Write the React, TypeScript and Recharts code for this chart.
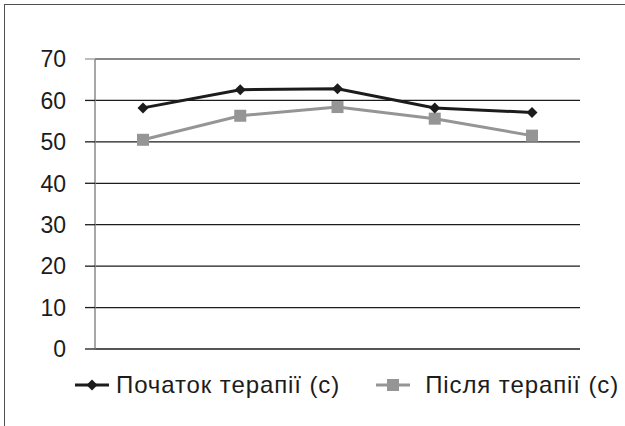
import { CartesianGrid, Line, LineChart, ReferenceLine, XAxis, YAxis } from 'recharts'

const stages = ['1', '2', '3', '4', '5']
const beforeValues = [58.2, 62.6, 62.8, 58.2, 57.1]
const afterValues = [50.5, 56.3, 58.4, 55.6, 51.5]
const yTicks = [0, 10, 20, 30, 40, 50, 60, 70]

const BEFORE_LABEL = 'Початок терапії (с)'
const AFTER_LABEL = 'Після терапії (с)'

const FONT = '"Liberation Sans", Arial, sans-serif'
const DARK = '#1c1c1c'
const GREY = '#959595'

const data = stages.map((s, i) => ({ stage: s, before: beforeValues[i], after: afterValues[i] }))

function Diamond({ cx, cy }: any) {
  if (cx == null || cy == null) return null
  return <path d={`M${cx},${cy - 5.5} L${cx + 5.5},${cy} L${cx},${cy + 5.5} L${cx - 5.5},${cy} Z`} fill={DARK} />
}

function Square({ cx, cy }: any) {
  if (cx == null || cy == null) return null
  return <rect x={cx - 6} y={cy - 6} width={12} height={12} fill={GREY} />
}

function YTick({ x, y, payload }: any) {
  const stroke = payload.value === 70 ? '#9a9a9a' : DARK
  return (
    <g>
      <line x1={x + 19} x2={x + 29} y1={y} y2={y} stroke={stroke} strokeWidth={1.3} />
      <text x={x} y={y} dy="0.36em" textAnchor="end" fontSize={23} fill={DARK} fontFamily={FONT}>
        {payload.value}
      </text>
    </g>
  )
}

export default function App() {
  return (
    <div style={{ position: 'absolute', left: 0, top: 0, width: 625, height: 426, overflow: 'hidden', background: '#fff' }}>
      <div
        style={{
          position: 'absolute',
          left: 4,
          top: 4,
          width: 700,
          height: 500,
          border: '1.5px solid #505050',
        }}
      />
      <div style={{ position: 'absolute', left: 0, top: 0 }}>
        <LineChart width={625} height={426} data={data} margin={{ top: 59, right: 45, bottom: 77, left: 0 }}>
          <CartesianGrid vertical={false} stroke={DARK} strokeWidth={1.3} />
          <ReferenceLine y={70} stroke="#9a9a9a" strokeWidth={1.5} />
          <XAxis
            dataKey="stage"
            tick={false}
            tickLine={false}
            height={0}
            padding={{ left: 48, right: 48 }}
            axisLine={{ stroke: DARK, strokeWidth: 1.3 }}
          />
          <YAxis
            width={95}
            domain={[0, 70]}
            ticks={yTicks}
            interval={0}
            tickSize={10}
            tickMargin={19}
            tickLine={false}
            axisLine={{ stroke: '#8a8a8a', strokeWidth: 1.5 }}
            tick={<YTick />}
          />
          <Line
            dataKey="after"
            stroke={GREY}
            strokeWidth={3}
            dot={<Square />}
            activeDot={false}
            isAnimationActive={false}
          />
          <Line
            dataKey="before"
            stroke={DARK}
            strokeWidth={3}
            dot={<Diamond />}
            activeDot={false}
            isAnimationActive={false}
          />
        </LineChart>
      </div>
      <div
        style={{
          position: 'absolute',
          left: 75,
          top: 371,
          display: 'flex',
          alignItems: 'center',
          fontFamily: FONT,
          fontSize: 24,
          letterSpacing: 0.9,
          color: DARK,
          whiteSpace: 'nowrap',
        }}
      >
        <svg width={34} height={14} style={{ marginRight: 7 }}>
          <line x1={0} x2={34} y1={7} y2={7} stroke={DARK} strokeWidth={3} />
          <path d="M17,1.5 L22.5,7 L17,12.5 L11.5,7 Z" fill={DARK} />
        </svg>
        <span>{BEFORE_LABEL}</span>
        <svg width={34} height={14} style={{ marginLeft: 36, marginRight: 15 }}>
          <line x1={0} x2={34} y1={7} y2={7} stroke={GREY} strokeWidth={3} />
          <rect x={11} y={1} width={12} height={12} fill={GREY} />
        </svg>
        <span>{AFTER_LABEL}</span>
      </div>
    </div>
  )
}
